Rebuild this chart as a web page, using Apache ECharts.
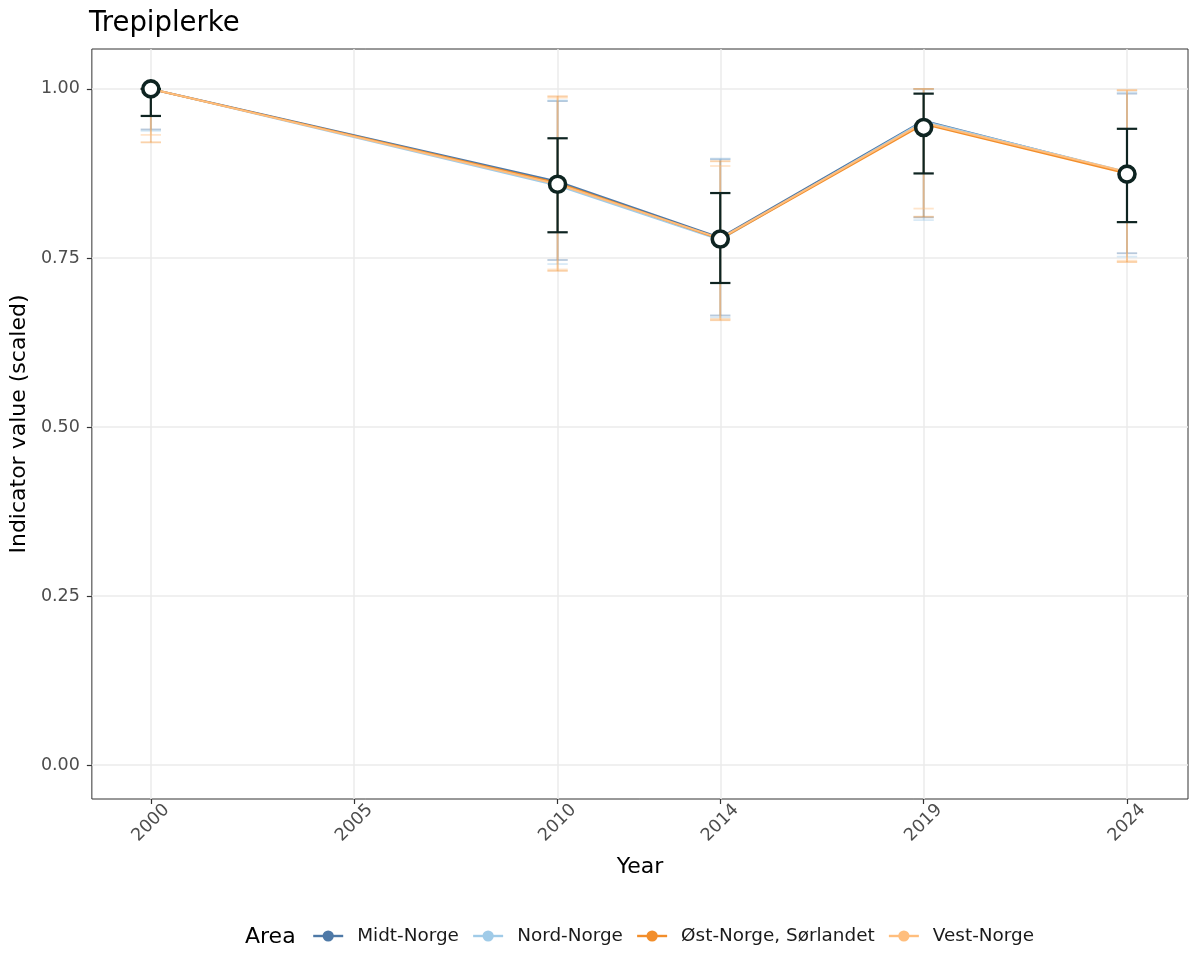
<!DOCTYPE html>
<html><head><meta charset="utf-8">
<script src="https://cdn.jsdelivr.net/npm/echarts@6/dist/echarts.min.js"></script>
<style>html,body{margin:0;padding:0;background:#fff}#c{width:1200px;height:975px}</style>
</head><body><div id="c"></div>
<script>
const years = [2000, 2010, 2014, 2019, 2024];
const xTicks = [2000, 2005, 2010, 2014, 2019, 2024];
const yTicks = [0, 0.25, 0.5, 0.75, 1.0];
const areas = ['Midt-Norge', 'Nord-Norge', 'Øst-Norge, Sørlandet', 'Vest-Norge'];
const areaColors = ['#4E79A7', '#A0CBE8', '#F28E2B', '#FFBE7D'];

const midtValue = [1.0, 0.863, 0.780, 0.953, 0.876];
const midtLow   = [0.940, 0.747, 0.665, 0.810, 0.757];
const midtHigh  = [1.0, 0.982, 0.896, 1.0, 0.993];

const nordValue = [1.0, 0.857, 0.777, 0.952, 0.877];
const nordLow   = [0.938, 0.741, 0.662, 0.806, 0.752];
const nordHigh  = [1.0, 0.983, 0.897, 0.999, 0.995];

const ostValue = [1.0, 0.861, 0.778, 0.948, 0.875];
const ostLow   = [0.921, 0.731, 0.658, 0.811, 0.744];
const ostHigh  = [1.0, 0.989, 0.893, 1.0, 0.998];

const vestValue = [1.0, 0.859, 0.779, 0.950, 0.877];
const vestLow   = [0.932, 0.733, 0.660, 0.823, 0.746];
const vestHigh  = [1.0, 0.987, 0.886, 1.0, 0.998];

const totalValue = [1.0, 0.859, 0.778, 0.943, 0.874];
const totalLow   = [0.960, 0.788, 0.713, 0.875, 0.803];
const totalHigh  = [1.0, 0.927, 0.846, 0.993, 0.941];

const areaValues = [midtValue, nordValue, ostValue, vestValue];
const areaLows = [midtLow, nordLow, ostLow, vestLow];
const areaHighs = [midtHigh, nordHigh, ostHigh, vestHigh];

const FONT = 'DejaVu Sans';
const DARK = '#0e2421';

function errRender(color, lw, opacity) {
  return function (params, api) {
    const x = api.value(0), lo = api.value(1), hi = api.value(2);
    const pl = api.coord([x, lo]);
    const ph = api.coord([x, hi]);
    const hw = api.size([0.25, 0])[0];
    const st = { stroke: color, lineWidth: lw, opacity: opacity };
    return {
      type: 'group',
      children: [
        { type: 'line', shape: { x1: pl[0], y1: pl[1], x2: ph[0], y2: ph[1] }, style: st },
        { type: 'line', shape: { x1: pl[0] - hw, y1: pl[1], x2: pl[0] + hw, y2: pl[1] }, style: st },
        { type: 'line', shape: { x1: ph[0] - hw, y1: ph[1], x2: ph[0] + hw, y2: ph[1] }, style: st }
      ]
    };
  };
}

const series = [];
areas.forEach((name, k) => {
  series.push({
    type: 'custom',
    name: name + ' err',
    z: 1,
    silent: true,
    renderItem: errRender(areaColors[k], 1.8, 0.4),
    data: years.map((y, i) => [y, areaLows[k][i], areaHighs[k][i]]),
    encode: { x: 0, y: [1, 2] }
  });
});
areas.forEach((name, k) => {
  series.push({
    type: 'line',
    name: name,
    z: 2,
    color: areaColors[k],
    symbol: 'circle',
    symbolSize: 6,
    lineStyle: { width: 2, color: areaColors[k] },
    itemStyle: { color: areaColors[k] },
    data: years.map((y, i) => [y, areaValues[k][i]])
  });
});
series.push({
  type: 'custom',
  name: 'total err',
  z: 3,
  silent: true,
  renderItem: errRender(DARK, 2.2, 1),
  data: years.map((y, i) => [y, totalLow[i], totalHigh[i]]),
  encode: { x: 0, y: [1, 2] }
});
series.push({
  type: 'scatter',
  name: 'total',
  z: 4,
  symbol: 'circle',
  symbolSize: 16,
  itemStyle: { color: '#ffffff', borderColor: DARK, borderWidth: 3.6, opacity: 1 },
  data: years.map((y, i) => [y, totalValue[i]])
});

const chart = echarts.init(document.getElementById('c'));
chart.setOption({
  animation: false,
  backgroundColor: '#ffffff',
  textStyle: { fontFamily: FONT },
  title: {
    text: 'Trepiplerke', left: 84, top: 5,
    textStyle: { fontFamily: FONT, fontSize: 27.5, fontWeight: 'normal', color: '#000000' }
  },
  graphic: [{
    type: 'text', left: 245, top: 926,
    style: { text: 'Area', fontFamily: FONT, fontSize: 22, fill: '#000000' }
  }],
  legend: {
    data: areas, left: 307, top: 922, itemWidth: 30, itemHeight: 14, itemGap: 13,
    lineStyle: { width: 2.4 },
    textStyle: { fontFamily: FONT, fontSize: 18.4, color: '#1a1a1a', padding: [0, 0, 0, 9] }
  },
  grid: { left: 90, right: 12, top: 49, bottom: 176, show: true, borderColor: '#333333', borderWidth: 1, containLabel: false },
  xAxis: {
    type: 'value', min: 1998.55, max: 2025.5,
    name: 'Year', nameLocation: 'middle', nameGap: 57,
    nameTextStyle: { fontFamily: FONT, fontSize: 22, color: '#000000' },
    axisLine: { show: false, onZero: false },
    axisTick: { show: true, length: 5, lineStyle: { color: '#333333', width: 1.2 }, customValues: xTicks },
    axisLabel: { customValues: xTicks, rotate: 45, fontSize: 17.5, color: '#4d4d4d', fontFamily: FONT, margin: 24, align: 'center', verticalAlign: 'middle', formatter: v => String(v) },
    splitLine: { show: true, lineStyle: { color: '#ebebeb', width: 1.5 } }
  },
  yAxis: {
    type: 'value', min: -0.05, max: 1.059,
    name: 'Indicator value (scaled)', nameLocation: 'middle', nameGap: 56,
    nameTextStyle: { fontFamily: FONT, fontSize: 22, color: '#000000' },
    axisLine: { show: false, onZero: false },
    axisTick: { show: true, length: 5, lineStyle: { color: '#333333', width: 1.2 }, customValues: yTicks },
    axisLabel: { customValues: yTicks, fontSize: 17.5, color: '#4d4d4d', fontFamily: FONT, margin: 12, formatter: v => v.toFixed(2) },
    splitLine: { show: true, lineStyle: { color: '#ebebeb', width: 1.5 } }
  },
  series: series
});
</script></body></html>
